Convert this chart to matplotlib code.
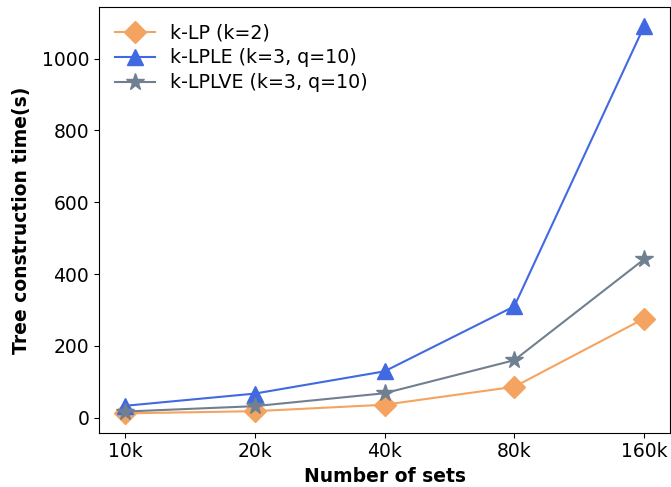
import matplotlib
matplotlib.use("Agg")
import matplotlib.pyplot as plt

# Dataset sizes and measured tree construction times (seconds)
set_sizes = ["10k", "20k", "40k", "80k", "160k"]
klp_times = [12, 18, 36, 86, 276]
klple_times = [33, 67, 129, 310, 1090]
klplve_times = [17, 32, 68, 160, 441]

fig = plt.figure(figsize=(6.71, 4.87), dpi=100)
ax = fig.add_axes([99 / 671, (487 - 432.7) / 487, (670 - 99) / 671, (432.7 - 7) / 487])

x = range(len(set_sizes))
ax.plot(x, klp_times, color="sandybrown", marker="D", markersize=11,
        linewidth=1.5, label="k-LP (k=2)")
ax.plot(x, klple_times, color="royalblue", marker="^", markersize=12,
        linewidth=1.5, label="k-LPLE (k=3, q=10)")
ax.plot(x, klplve_times, color="slategray", marker="*", markersize=13,
        linewidth=1.5, label="k-LPLVE (k=3, q=10)")

ax.set_xticks(list(x))
ax.set_xticklabels(set_sizes)
ax.tick_params(labelsize=13.5)
ax.set_xlabel("Number of sets", fontsize=13.5, fontweight="bold")
ax.set_ylabel("Tree construction time(s)", fontsize=13.5, fontweight="bold",
              labelpad=8)
ax.legend(loc="upper left", frameon=False, fontsize=13.7, labelspacing=0.32,
          handlelength=2.1, borderaxespad=0.45)

fig.savefig("out.png", dpi=100)
